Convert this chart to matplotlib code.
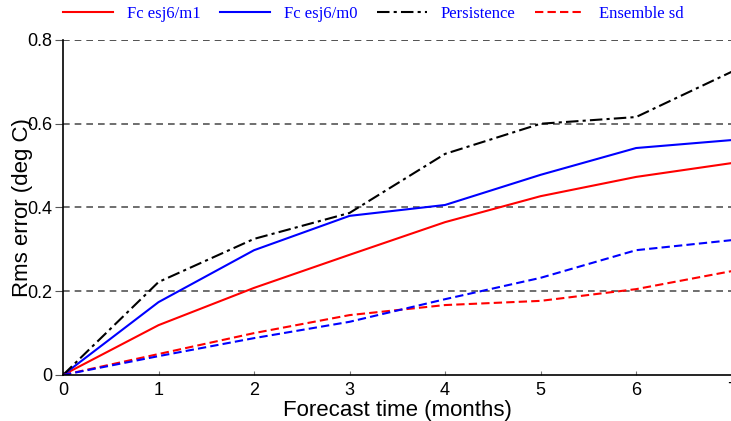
import numpy as np
import matplotlib
matplotlib.use('Agg')
import matplotlib.pyplot as plt

months = [0, 1, 2, 3, 4, 5, 6, 7]
fc_m1 = [0, 0.119, 0.208, 0.287, 0.365, 0.427, 0.473, 0.506]
fc_m0 = [0, 0.174, 0.298, 0.380, 0.406, 0.478, 0.542, 0.561]
persistence = [0, 0.222, 0.325, 0.387, 0.528, 0.600, 0.616, 0.724]
sd_m1 = [0, 0.050, 0.100, 0.143, 0.167, 0.177, 0.205, 0.248]
sd_m0 = [0, 0.045, 0.088, 0.127, 0.181, 0.232, 0.298, 0.322]

y_ticks = [0, 0.2, 0.4, 0.6, 0.8]
y_labels = ['0', '0.2', '0.4', '0.6', '0.8']

plt.rcParams['font.family'] = ['Liberation Sans', 'DejaVu Sans']

fig = plt.figure(figsize=(7.31, 4.21), dpi=100)
ax = fig.add_axes([0.0862, 0.1093, 0.9146, 0.7957])

lw = 1.5
l1, = ax.plot(months, fc_m1, color='#ff0000', lw=lw, label='Fc esj6/m1')
l2, = ax.plot(months, fc_m0, color='#0000ff', lw=lw, label='Fc esj6/m0')
l3, = ax.plot(months, persistence, color='black', lw=lw, dashes=(6, 2, 1.5, 2), label='Persistence')
l4, = ax.plot(months, sd_m1, color='#ff0000', lw=lw, dashes=(4, 2), label='Ensemble sd')
ax.plot(months, sd_m0, color='#0000ff', lw=lw, dashes=(4, 2))

for yv in y_ticks[1:]:
    ax.axhline(yv, color='#555555' if yv < 0.8 else '#333333', lw=1.2, dashes=(4, 3), zorder=0)

ax.set_xlim(0, 7)
ax.set_ylim(0, 0.8)
ax.set_xticks(months)
ax.set_yticks(y_ticks)
ax.set_yticklabels(y_labels)
ax.tick_params(axis='x', direction='in', length=3, color='#777777', pad=5, labelsize=13)
ax.tick_params(axis='y', length=6, color='#555555', pad=2, labelsize=13)
ax.spines['top'].set_visible(False)
ax.spines['right'].set_visible(False)
ax.spines['left'].set_linewidth(1.2)
ax.spines['bottom'].set_linewidth(1.2)

ax.set_xlabel('Forecast time (months)', fontsize=16, labelpad=1)
ax.set_ylabel('Rms error (deg C)', fontsize=16)
ax.yaxis.set_label_coords(-0.045, 0.5)

leg = fig.legend(handles=[l1, l2, l3, l4], loc='center left', bbox_to_anchor=(63 / 731, 1 - 14 / 421),
                 ncol=4, frameon=False, handlelength=3.0, handletextpad=0.85,
                 columnspacing=1.15, borderpad=0, borderaxespad=0,
                 prop={'family': 'Liberation Serif', 'size': 12})
for t in leg.get_texts():
    t.set_color('#0000ff')

fig.savefig('out.png', dpi=100)
